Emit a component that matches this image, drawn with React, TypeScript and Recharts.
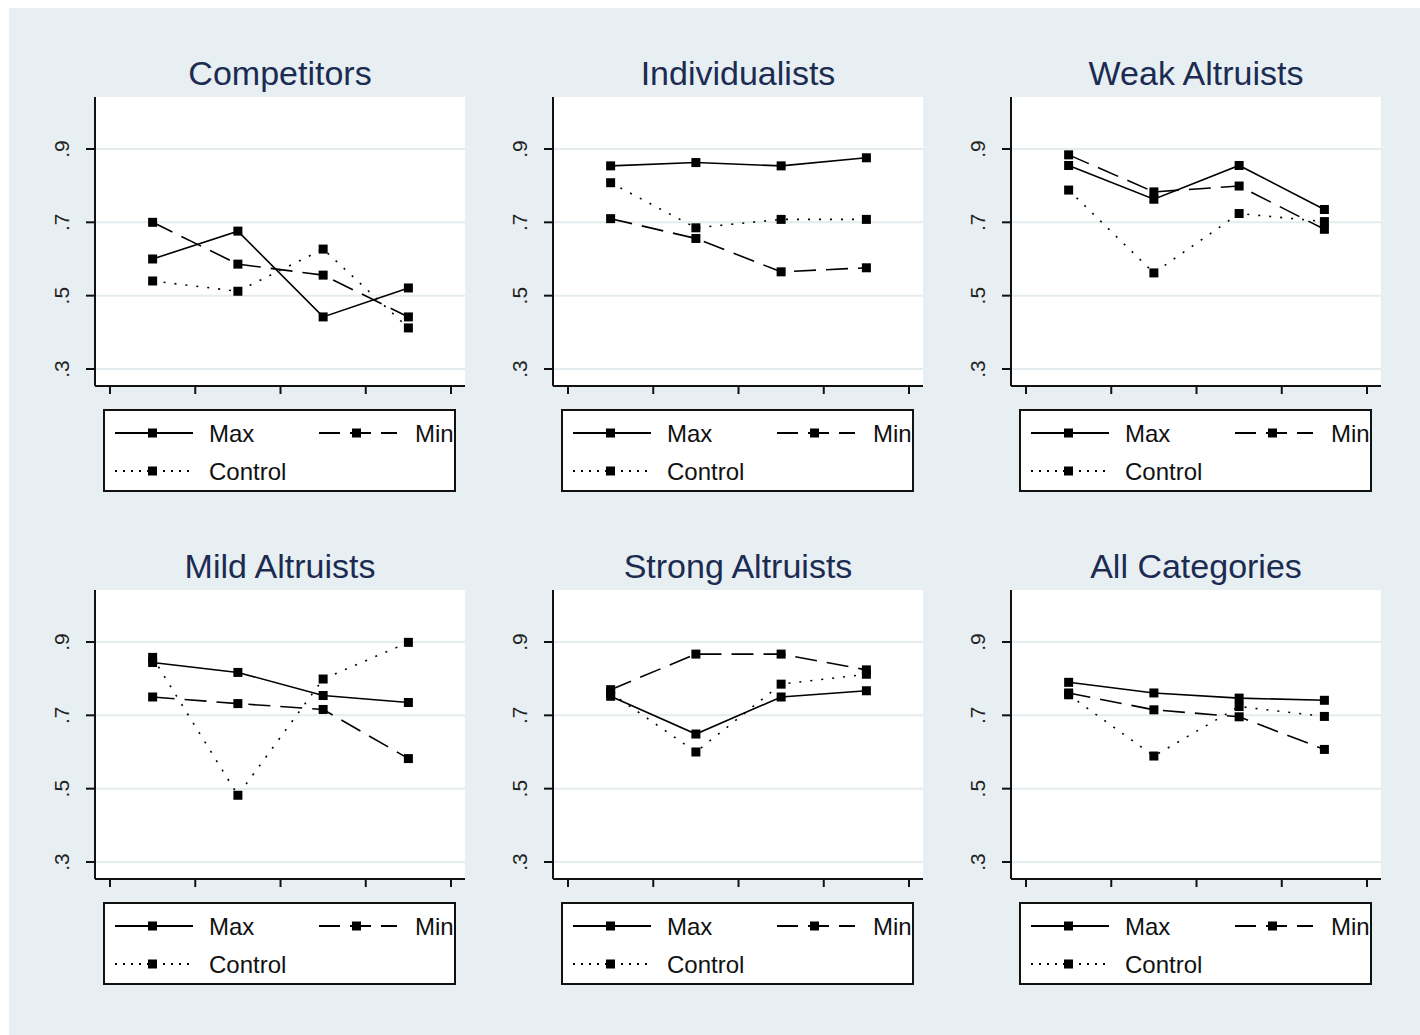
import React from "react";
import { LineChart, Line, XAxis, YAxis, CartesianGrid } from "recharts";

// x positions of the four treatments
const periods = [1, 2, 3, 4];

const competitorsMax = [0.6, 0.676, 0.442, 0.521];
const competitorsMin = [0.7, 0.586, 0.556, 0.442];
const competitorsControl = [0.54, 0.512, 0.627, 0.412];

const individualistsMax = [0.854, 0.863, 0.854, 0.876];
const individualistsMin = [0.71, 0.656, 0.565, 0.576];
const individualistsControl = [0.808, 0.685, 0.708, 0.708];

const weakMax = [0.855, 0.763, 0.855, 0.735];
const weakMin = [0.884, 0.783, 0.799, 0.681];
const weakControl = [0.788, 0.562, 0.724, 0.702];

const mildMax = [0.844, 0.817, 0.754, 0.735];
const mildMin = [0.75, 0.732, 0.716, 0.582];
const mildControl = [0.858, 0.482, 0.799, 0.899];

const strongMax = [0.752, 0.649, 0.75, 0.767];
const strongMin = [0.77, 0.867, 0.867, 0.824];
const strongControl = [0.761, 0.6, 0.785, 0.812];

const allMax = [0.79, 0.761, 0.747, 0.741];
const allMin = [0.761, 0.715, 0.696, 0.607];
const allControl = [0.756, 0.589, 0.724, 0.697];

const titles = [
    "Competitors",
    "Individualists",
    "Weak Altruists",
    "Mild Altruists",
    "Strong Altruists",
    "All Categories",
];

const yTicks = [0.3, 0.5, 0.7, 0.9];
const xTicks = [0.5, 1.5, 2.5, 3.5, 4.5];

const panels = [
    { title: titles[0], max: competitorsMax, min: competitorsMin, control: competitorsControl },
    { title: titles[1], max: individualistsMax, min: individualistsMin, control: individualistsControl },
    { title: titles[2], max: weakMax, min: weakMin, control: weakControl },
    { title: titles[3], max: mildMax, min: mildMin, control: mildControl },
    { title: titles[4], max: strongMax, min: strongMin, control: strongControl },
    { title: titles[5], max: allMax, min: allMin, control: allControl },
];

const BG = "#e8eff2";
const GRID = "#e4ecef";
const FONT = "'Liberation Sans', Arial, sans-serif";
const DASH = "22 10";
const DOT = "2 9";

const plotLefts = [95, 553, 1011];
const plotTops = [97, 590];
const PW = 370;
const PH = 289;
const YW = 60;
const MT = 10;

const squareDot = (name: string) => (p: any) => (
    <rect
        key={`${name}-${p.index}`}
        x={p.cx - 4.5}
        y={p.cy - 4.5}
        width={9}
        height={9}
        fill="#000"
    />
);

const YTick = (props: any) => {
    const { y, payload } = props;
    const label = String(payload.value).replace(/^0/, "");
    return (
        <text
            transform={`translate(${YW - 26},${y}) rotate(-90)`}
            textAnchor="middle"
            fontSize={21}
            fontFamily={FONT}
            fill="#222"
        >
            {label}
        </text>
    );
};

const Sample = ({ dash }: { dash?: string }) => (
    <svg width={78} height={12} style={{ position: "absolute", left: 0, top: -6 }}>
        <line x1={0} y1={6} x2={78} y2={6} stroke="#000" strokeWidth={2} strokeDasharray={dash} />
        <rect x={33} y={1.5} width={9} height={9} fill="#000" />
    </svg>
);

const LegendBox = ({ left, top }: { left: number; top: number }) => {
    const text: React.CSSProperties = {
        position: "absolute",
        fontSize: 24,
        fontFamily: FONT,
        color: "#111",
        lineHeight: "28px",
    };
    return (
        <div
            style={{
                position: "absolute",
                left,
                top,
                width: 353,
                height: 83,
                boxSizing: "border-box",
                border: "2px solid #111",
                background: "#fff",
            }}
        >
            <div style={{ position: "absolute", left: 10, top: 22 }}>
                <Sample />
            </div>
            <span style={{ ...text, left: 104, top: 9 }}>Max</span>
            <div style={{ position: "absolute", left: 214, top: 22 }}>
                <Sample dash="21 10" />
            </div>
            <span style={{ ...text, left: 310, top: 9 }}>Min</span>
            <div style={{ position: "absolute", left: 10, top: 60 }}>
                <Sample dash="2 6" />
            </div>
            <span style={{ ...text, left: 104, top: 47 }}>Control</span>
        </div>
    );
};

const Panel = ({ idx }: { idx: number }) => {
    const p = panels[idx];
    const col = idx % 3;
    const row = Math.floor(idx / 3);
    // coordinates relative to the blue background (which sits at 9,8 on the page)
    const pl = plotLefts[col] - 9;
    const pt = plotTops[row] - 8;
    const data = periods.map((x, i) => ({
        x,
        max: p.max[i],
        min: p.min[i],
        control: p.control[i],
    }));

    return (
        <>
            <div
                style={{
                    position: "absolute",
                    left: pl - 20,
                    top: pt - 44,
                    width: PW + 40,
                    textAlign: "center",
                    fontSize: 34,
                    lineHeight: "40px",
                    fontFamily: FONT,
                    color: "#1b2b52",
                }}
            >
                {p.title}
            </div>
            <div style={{ position: "absolute", left: pl - YW, top: pt - MT }}>
                <LineChart
                    width={YW + PW + 10}
                    height={MT + PH + 20}
                    data={data}
                    margin={{ top: MT, right: 10, left: 0, bottom: 0 }}
                >
                    <CartesianGrid vertical={false} fill="#fff" stroke={GRID} strokeWidth={2} horizontalValues={yTicks} />
                    <XAxis
                        type="number"
                        dataKey="x"
                        domain={[0.324, 4.664]}
                        ticks={xTicks}
                        allowDataOverflow
                        tickFormatter={() => ""}
                        tickSize={8}
                        height={20}
                        axisLine={{ stroke: "#111", strokeWidth: 2 }}
                        tickLine={{ stroke: "#111", strokeWidth: 2 }}
                    />
                    <YAxis
                        type="number"
                        domain={[0.2536, 1.0418]}
                        ticks={yTicks}
                        allowDataOverflow
                        width={YW}
                        tickSize={9}
                        tick={<YTick />}
                        axisLine={{ stroke: "#111", strokeWidth: 2 }}
                        tickLine={{ stroke: "#111", strokeWidth: 2 }}
                    />
                    <Line dataKey="max" stroke="#000" strokeWidth={1.6} dot={squareDot("max")} isAnimationActive={false} />
                    <Line dataKey="min" stroke="#000" strokeWidth={1.6} strokeDasharray={DASH} dot={squareDot("min")} isAnimationActive={false} />
                    <Line dataKey="control" stroke="#000" strokeWidth={1.6} strokeDasharray={DOT} dot={squareDot("control")} isAnimationActive={false} />
                </LineChart>
            </div>
            <LegendBox left={pl + 8} top={pt + PH + 23} />
        </>
    );
};

export default function App() {
    return (
        <div
            style={{
                position: "absolute",
                left: 9,
                top: 8,
                width: 1411,
                height: 1027,
                background: BG,
                overflow: "hidden",
            }}
        >
            {panels.map((_, i) => (
                <Panel key={i} idx={i} />
            ))}
        </div>
    );
}
